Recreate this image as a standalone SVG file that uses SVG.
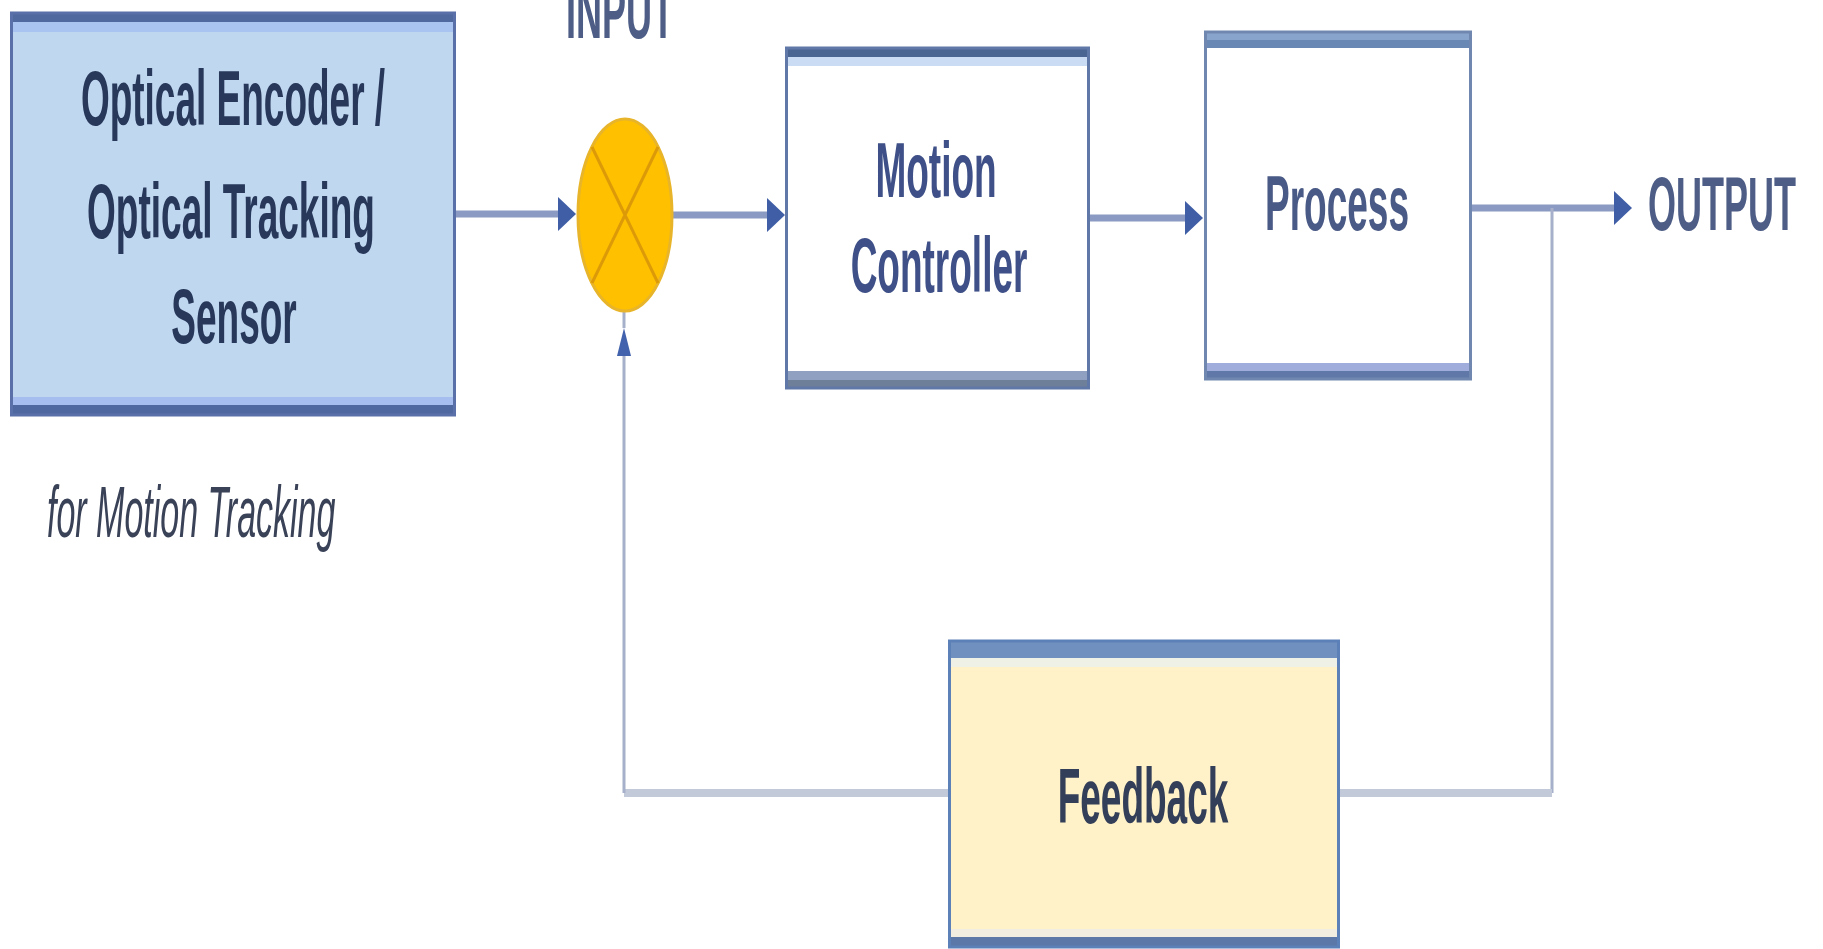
<svg xmlns="http://www.w3.org/2000/svg" width="1823" height="949" viewBox="0 0 1823 949">
<style>
.t{font-family:"Liberation Sans",Arial,sans-serif;font-weight:bold;font-size:37px;text-anchor:middle}
.io{font-family:"Liberation Sans",Arial,sans-serif;font-weight:bold;font-size:36px;text-anchor:middle;fill:#4d5d86}
.note{font-family:"Liberation Sans",Arial,sans-serif;font-style:italic;font-size:34px;fill:#3a4258}
.main{fill:none;stroke:#8a9ac2;stroke-width:7}
.thin{fill:none;stroke:#a6b0ca;stroke-width:3}
.fb{fill:none;stroke:#c2c9d9;stroke-width:8}
.side{fill:none;stroke-width:3}
</style>
<defs>
<marker id="ahR" markerUnits="userSpaceOnUse" markerWidth="19" markerHeight="35" refX="0" refY="17" orient="auto" overflow="visible">
<path d="M0,0 L18,17 L0,34 Z" fill="#3f5ea6"/>
</marker>
<marker id="ahUp" markerUnits="userSpaceOnUse" markerWidth="29" markerHeight="15" refX="0" refY="7" orient="auto" overflow="visible">
<path d="M0,0 L28,7 L0,14 Z" fill="#4262ae"/>
</marker>
</defs>
<rect width="1823" height="949" fill="#ffffff"/>

<g id="connectors">
<path class="main" d="M456,214 H558" marker-end="url(#ahR)"/>
<path class="main" d="M672,215 H767" marker-end="url(#ahR)"/>
<path class="main" d="M1090,218 H1185" marker-end="url(#ahR)"/>
<path class="main" d="M1472,208 H1614" marker-end="url(#ahR)"/>
<path class="thin" d="M1552,208 V793"/>
<path class="fb" d="M1552,793 H1340"/>
<path class="fb" d="M948,793 H624"/>
<path class="thin" d="M624,793 V356" marker-end="url(#ahUp)"/>
<path class="thin" d="M624,328 V311"/>
</g>

<g id="sensor">
<rect x="10" y="13" width="446" height="402" fill="#c0d7f0"/>
<rect x="13" y="22" width="440" height="10" fill="#a9c4f0"/>
<rect x="13" y="397" width="440" height="8" fill="#a6bdf0"/>
<rect x="10" y="13" width="446" height="9" fill="#50699f"/>
<rect x="10" y="405" width="446" height="10" fill="#5068a0"/>
<rect class="side" x="11.5" y="13" width="443" height="402" stroke="#5a70a8"/>
<text class="t" fill="#27385a" transform="translate(233,125) scale(1,2.1)">Optical Encoder /</text>
<text class="t" fill="#27385a" transform="translate(231,238) scale(1,2.1)">Optical Tracking</text>
<text class="t" fill="#27385a" transform="translate(234,343) scale(1,2.1)">Sensor</text>
</g>

<g id="sensor-note">
<text class="note" transform="translate(47,537) scale(1,2.1)">for Motion Tracking</text>
</g>

<g id="input-sum">
<ellipse cx="625" cy="215" rx="47" ry="96" fill="#ffc000" stroke="#e8b52a" stroke-width="3"/>
<path d="M592,147 L658,283 M658,147 L592,283" stroke="#dc9a08" stroke-width="3" fill="none"/>
<text class="io" fill="#5a6b9c" transform="translate(620,38) scale(1,2.1)">INPUT</text>
</g>

<g id="motion-controller">
<rect x="785" y="48" width="305" height="340" fill="#ffffff"/>
<rect x="785" y="57" width="305" height="9" fill="#cadcf4"/>
<rect x="785" y="48" width="305" height="9" fill="#4a6592"/>
<rect x="785" y="371" width="305" height="9" fill="#8fa0c0"/>
<rect x="785" y="380" width="305" height="8" fill="#6e7f9a"/>
<rect class="side" x="786.5" y="48" width="302" height="340" stroke="#6078a8"/>
<text class="t" fill="#3e5087" transform="translate(936,197) scale(1,2.1)">Motion</text>
<text class="t" fill="#3e5087" transform="translate(939,292) scale(1,2.1)">Controller</text>
</g>

<g id="process">
<rect x="1204" y="32" width="268" height="347" fill="#ffffff"/>
<rect x="1204" y="32" width="268" height="8" fill="#88a4cc"/>
<rect x="1204" y="40" width="268" height="8" fill="#6a88b4"/>
<rect x="1204" y="363" width="268" height="8" fill="#a0acdc"/>
<rect x="1204" y="371" width="268" height="8" fill="#6078a8"/>
<rect class="side" x="1205.5" y="32" width="265" height="347" stroke="#7088b0"/>
<text class="t" fill="#4a5a86" transform="translate(1337,230) scale(1,2.1)">Process</text>
</g>

<g id="output">
<text class="io" transform="translate(1722,230) scale(1,2.1)">OUTPUT</text>
</g>

<g id="feedback">
<rect x="948" y="641" width="392" height="306" fill="#fff2c8"/>
<rect x="948" y="658" width="392" height="9" fill="#eff0e6"/>
<rect x="948" y="929" width="392" height="8" fill="#f1ede0"/>
<rect x="948" y="641" width="392" height="17" fill="#7090bf"/>
<rect x="948" y="937" width="392" height="10" fill="#5c78a8"/>
<rect class="side" x="949.5" y="641" width="389" height="306" stroke="#5c80b8"/>
<text class="t" fill="#333e58" transform="translate(1143,823) scale(1,2.1)">Feedback</text>
</g>
</svg>
